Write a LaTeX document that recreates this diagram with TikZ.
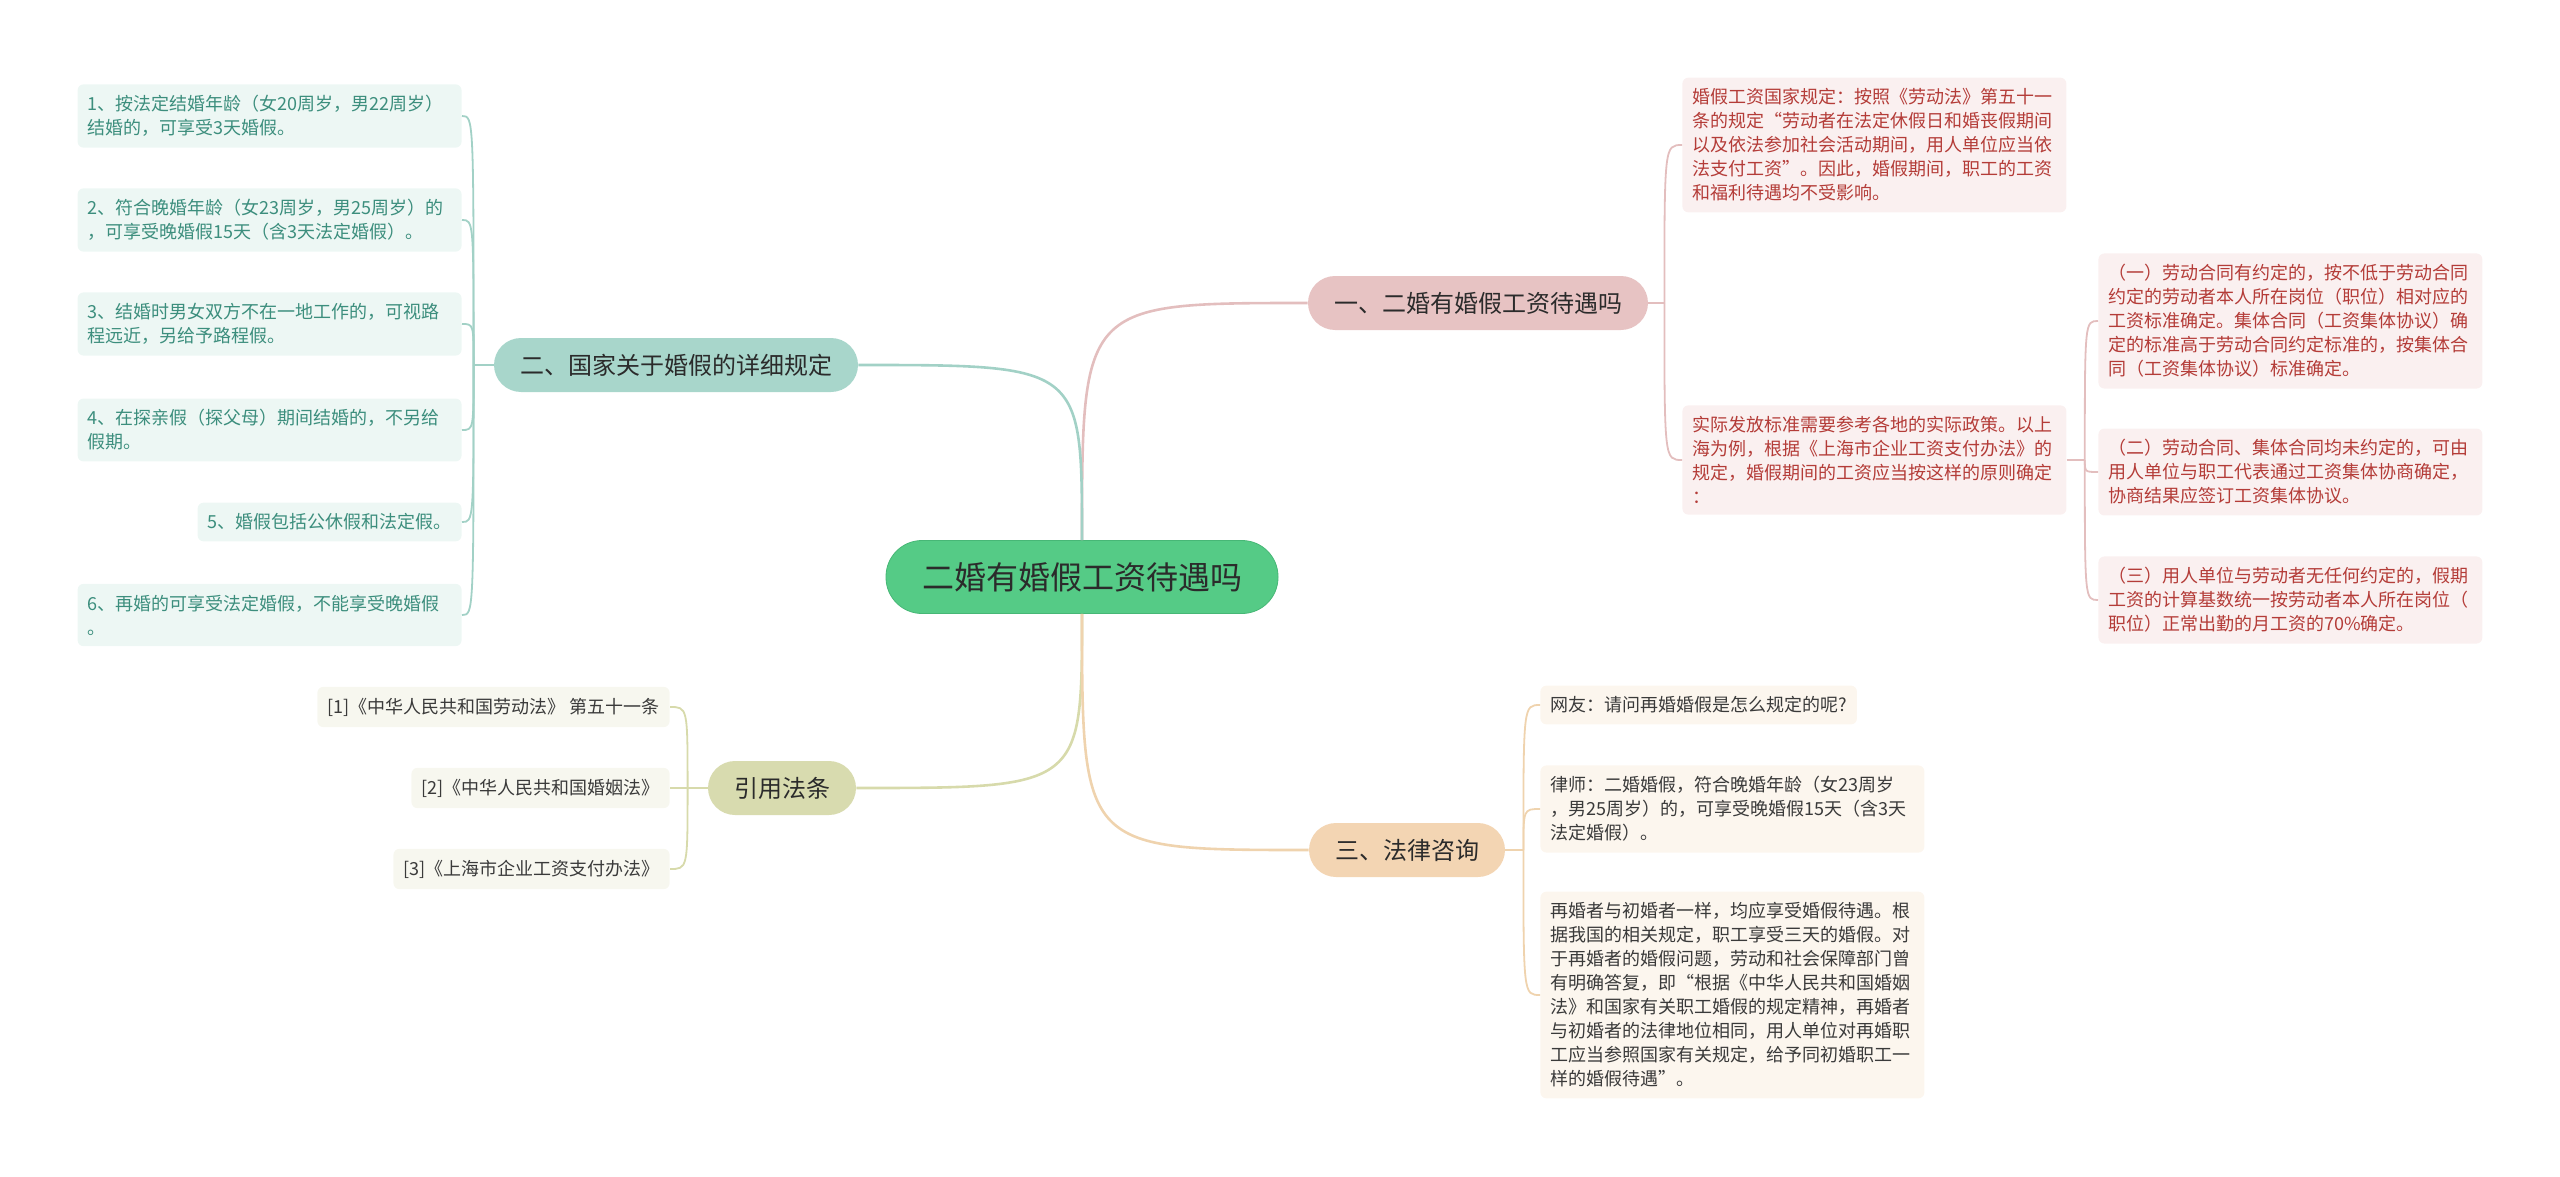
\documentclass[tikz,border=0pt]{standalone}
\usepackage{fontspec}
\setmainfont{Noto Sans CJK SC}
\definecolor{verde}{HTML}{55CB86}
\definecolor{verdeborde}{HTML}{47B776}
\definecolor{tinta}{HTML}{2B2B2B}
\definecolor{gris}{HTML}{3A3A3A}
\definecolor{rosa}{HTML}{E7C3C3}
\definecolor{lrosa}{HTML}{E3BEBE}
\definecolor{frosa}{HTML}{FAF0F0}
\definecolor{trosa}{HTML}{B43C38}
\definecolor{teal}{HTML}{A8D6CB}
\definecolor{lteal}{HTML}{A2D1C6}
\definecolor{fteal}{HTML}{EDF7F4}
\definecolor{tteal}{HTML}{3C8E7D}
\definecolor{oliva}{HTML}{D8DBAF}
\definecolor{loliva}{HTML}{D7DAAB}
\definecolor{foliva}{HTML}{F7F7EF}
\definecolor{arena}{HTML}{F3D5B3}
\definecolor{larena}{HTML}{EFD3AE}
\definecolor{farena}{HTML}{FCF6EE}

\begin{document}
\begin{tikzpicture}[x=0.5pt, y=-0.5pt,
    raiz/.style={draw=verdeborde, fill=verde, text=tinta, rounded corners=18pt,
        minimum height=36.5pt, inner xsep=18pt, font=\fontsize{16}{19}\selectfont},
    rama/.style={rounded corners=13.5pt, minimum height=27pt, inner xsep=13pt,
        text=tinta, font=\fontsize{12}{14}\selectfont},
    hoja/.style={rounded corners=3pt, inner xsep=5pt, inner ysep=5.5pt, align=left,
        font=\fontsize{9}{12}\selectfont},
    ancha/.style={hoja, text width=182pt},
    cita/.style={hoja, fill=foliva, text=gris},
    tronco/.style={line width=1.3pt},
    rastro/.style={line width=0.9pt}]

    % #1 = estilo de la linea, #2 = origen, #3 = destino
    \newcommand{\enlace}[3]{%
        \draw[#1] (#2) .. controls (#2 |- #3) .. (#3);}

    \useasboundingbox (0,0) rectangle (2560,1177);

    % nodo central y ramas
    \node[raiz] (centro) at (1082,577) {二婚有婚假工资待遇吗};
    \node[rama, fill=rosa] (r1) at (1478,303) {一、二婚有婚假工资待遇吗};
    \node[rama, fill=teal] (r2) at (676,365) {二、国家关于婚假的详细规定};
    \node[rama, fill=oliva] (r3) at (782,788) {引用法条};
    \node[rama, fill=arena] (r4) at (1407,850) {三、法律咨询};

    % rama 2: detalles
    \node[ancha, fill=fteal, text=tteal, anchor=east] (l1) at (462,116)
        {1、按法定结婚年龄（女20周岁，男22周岁）\\结婚的，可享受3天婚假。};
    \node[ancha, fill=fteal, text=tteal, anchor=east] (l2) at (462,220)
        {2、符合晚婚年龄（女23周岁，男25周岁）的\\，可享受晚婚假15天（含3天法定婚假）。};
    \node[ancha, fill=fteal, text=tteal, anchor=east] (l3) at (462,324)
        {3、结婚时男女双方不在一地工作的，可视路\\程远近，另给予路程假。};
    \node[ancha, fill=fteal, text=tteal, anchor=east] (l4) at (462,430)
        {4、在探亲假（探父母）期间结婚的，不另给\\假期。};
    \node[hoja, fill=fteal, text=tteal, anchor=east] (l5) at (462,522)
        {5、婚假包括公休假和法定假。};
    \node[ancha, fill=fteal, text=tteal, anchor=east] (l6) at (462,615)
        {6、再婚的可享受法定婚假，不能享受晚婚假\\。};

    % rama 3: citas
    \node[cita, anchor=east] (c1) at (670,707) {[1]《中华人民共和国劳动法》 第五十一条};
    \node[cita, anchor=east] (c2) at (670,788) {[2]《中华人民共和国婚姻法》};
    \node[cita, anchor=east] (c3) at (670,869) {[3]《上海市企业工资支付办法》};

    % rama 1: salario
    \node[ancha, fill=frosa, text=trosa, anchor=west] (p1) at (1682,145)
        {婚假工资国家规定：按照《劳动法》第五十一\\条的规定“劳动者在法定休假日和婚丧假期间\\以及依法参加社会活动期间，用人单位应当依\\法支付工资”。因此，婚假期间，职工的工资\\和福利待遇均不受影响。};
    \node[ancha, fill=frosa, text=trosa, anchor=west] (p2) at (1682,460)
        {实际发放标准需要参考各地的实际政策。以上\\海为例，根据《上海市企业工资支付办法》的\\规定，婚假期间的工资应当按这样的原则确定\\：};
    \node[ancha, fill=frosa, text=trosa, anchor=west] (s1) at (2098,321)
        {（一）劳动合同有约定的，按不低于劳动合同\\约定的劳动者本人所在岗位（职位）相对应的\\工资标准确定。集体合同（工资集体协议）确\\定的标准高于劳动合同约定标准的，按集体合\\同（工资集体协议）标准确定。};
    \node[ancha, fill=frosa, text=trosa, anchor=west] (s2) at (2098,472)
        {（二）劳动合同、集体合同均未约定的，可由\\用人单位与职工代表通过工资集体协商确定，\\协商结果应签订工资集体协议。};
    \node[ancha, fill=frosa, text=trosa, anchor=west] (s3) at (2098,600)
        {（三）用人单位与劳动者无任何约定的，假期\\工资的计算基数统一按劳动者本人所在岗位（\\职位）正常出勤的月工资的70\%确定。};

    % rama 4: consulta
    \node[hoja, fill=farena, text=gris, anchor=west] (q1) at (1540,705)
        {网友：请问再婚婚假是怎么规定的呢?};
    \node[ancha, fill=farena, text=gris, anchor=west] (q2) at (1540,809)
        {律师：二婚婚假，符合晚婚年龄（女23周岁\\，男25周岁）的，可享受晚婚假15天（含3天\\法定婚假）。};
    \node[ancha, fill=farena, text=gris, anchor=west] (q3) at (1540,995)
        {再婚者与初婚者一样，均应享受婚假待遇。根\\据我国的相关规定，职工享受三天的婚假。对\\于再婚者的婚假问题，劳动和社会保障部门曾\\有明确答复，即“根据《中华人民共和国婚姻\\法》和国家有关职工婚假的规定精神，再婚者\\与初婚者的法律地位相同，用人单位对再婚职\\工应当参照国家有关规定，给予同初婚职工一\\样的婚假待遇”。};

    % conexiones del centro
    \enlace{tronco, lrosa}{centro.north}{r1.west}
    \enlace{tronco, lteal}{centro.north}{r2.east}
    \enlace{tronco, loliva}{centro.south}{r3.east}
    \enlace{tronco, larena}{centro.south}{r4.west}

    % puntos de union
    \coordinate (j1) at ([xshift=8pt]r1.east);
    \coordinate (j2) at ([xshift=-10pt]r2.west);
    \coordinate (j3) at ([xshift=-10pt]r3.west);
    \coordinate (j4) at ([xshift=9pt]r4.east);
    \coordinate (j5) at ([xshift=9pt]p2.east);

    \draw[rastro, lrosa] (r1.east) -- (j1);
    \draw[rastro, lteal] (r2.west) -- (j2);
    \draw[rastro, loliva] (r3.west) -- (j3);
    \draw[rastro, larena] (r4.east) -- (j4);
    \draw[rastro, lrosa] (p2.east) -- (j5);

    \foreach \h in {p1,p2} {\enlace{rastro, lrosa}{j1}{\h.west}}
    \foreach \h in {s1,s2,s3} {\enlace{rastro, lrosa}{j5}{\h.west}}
    \foreach \h in {l1,l2,l3,l4,l5,l6} {\enlace{rastro, lteal}{j2}{\h.east}}
    \foreach \h in {c1,c2,c3} {\enlace{rastro, loliva}{j3}{\h.east}}
    \foreach \h in {q1,q2,q3} {\enlace{rastro, larena}{j4}{\h.west}}

\end{tikzpicture}
\end{document}
